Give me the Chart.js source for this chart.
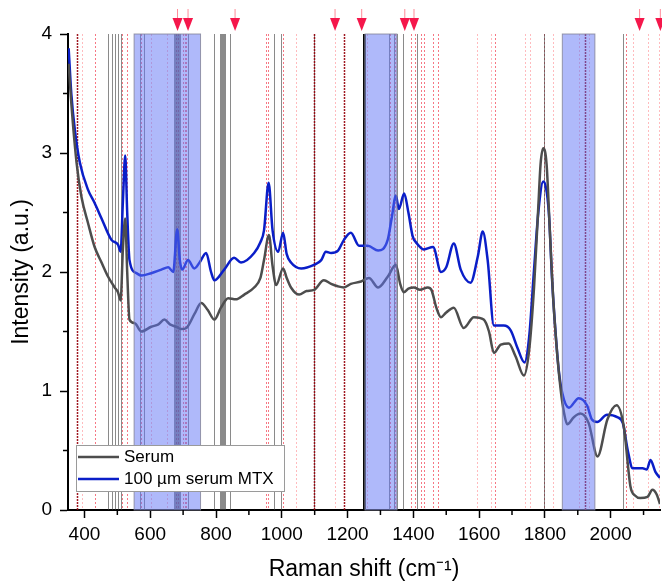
<!DOCTYPE html>
<html>
<head>
<meta charset="utf-8">
<script src="https://cdn.jsdelivr.net/npm/chart.js@4.4.1/dist/chart.umd.min.js"></script>
<style>
  body { margin: 0; background: #fff; }
</style>
</head>
<body>
<canvas id="raman" width="662" height="585"></canvas>
<script>
// spectra (Raman shift in cm-1, intensity in a.u.)
var serumShift = [352, 360, 376, 391, 411, 431, 452, 472, 492, 502, 510, 517, 524, 530, 537, 553, 573, 603, 625, 643, 660, 679, 695, 710, 735, 755, 775, 795, 815, 837, 860, 886, 916, 935, 946, 961, 972, 983, 1004, 1015, 1028, 1053, 1075, 1098, 1128, 1150, 1170, 1189, 1210, 1241, 1265, 1293, 1322, 1347, 1360, 1371, 1385, 1402, 1420, 1444, 1455, 1470, 1484, 1500, 1523, 1553, 1584, 1614, 1630, 1645, 1666, 1690, 1711, 1736, 1752, 1767, 1780, 1787, 1795, 1805, 1815, 1825, 1838, 1848, 1858, 1868, 1888, 1908, 1933, 1960, 1990, 2018, 2040, 2060, 2075, 2090, 2112, 2127, 2140, 2150];
var serumVal = [3.75, 3.42, 2.92, 2.63, 2.41, 2.21, 2.08, 1.96, 1.87, 1.83, 1.76, 2.2, 2.45, 2.0, 1.6, 1.57, 1.5, 1.54, 1.56, 1.6, 1.56, 1.54, 1.52, 1.53, 1.65, 1.74, 1.68, 1.6, 1.7, 1.78, 1.77, 1.81, 1.87, 1.95, 2.1, 2.31, 2.05, 1.89, 2.03, 1.95, 1.87, 1.81, 1.84, 1.85, 1.93, 1.9, 1.88, 1.87, 1.9, 1.92, 1.95, 1.87, 1.96, 2.06, 1.9, 1.83, 1.86, 1.87, 1.85, 1.87, 1.85, 1.7, 1.62, 1.66, 1.7, 1.53, 1.62, 1.6, 1.5, 1.32, 1.39, 1.4, 1.29, 1.13, 1.34, 1.87, 2.55, 2.91, 3.04, 2.91, 2.35, 1.79, 1.29, 1.01, 0.82, 0.72, 0.78, 0.81, 0.73, 0.45, 0.76, 0.88, 0.7, 0.2, 0.12, 0.1, 0.11, 0.17, 0.13, 0.05];

var mtxShift = [352, 360, 371, 386, 411, 431, 452, 482, 502, 510, 517, 524, 530, 537, 558, 573, 603, 634, 655, 670, 682, 690, 697, 715, 734, 750, 770, 785, 795, 825, 855, 876, 916, 935, 946, 960, 972, 989, 1004, 1015, 1028, 1059, 1098, 1120, 1134, 1150, 1171, 1189, 1210, 1235, 1262, 1293, 1322, 1334, 1347, 1356, 1372, 1385, 1398, 1408, 1432, 1460, 1484, 1500, 1523, 1544, 1574, 1596, 1611, 1626, 1645, 1675, 1696, 1717, 1738, 1752, 1767, 1780, 1795, 1812, 1822, 1832, 1842, 1853, 1873, 1903, 1928, 1943, 1959, 1989, 2020, 2037, 2052, 2067, 2097, 2110, 2121, 2136, 2150];
var mtxVal = [3.88, 3.5, 3.19, 2.92, 2.69, 2.58, 2.45, 2.27, 2.23, 2.17, 2.6, 2.98, 2.5, 2.1, 1.99, 1.97, 1.99, 2.02, 2.04, 2.0, 2.36, 2.1, 2.02, 2.1, 2.03, 2.08, 2.16, 2.0, 1.93, 2.02, 2.12, 2.08, 2.16, 2.25, 2.35, 2.75, 2.35, 2.17, 2.33, 2.15, 2.08, 2.03, 2.06, 2.1, 2.17, 2.16, 2.18, 2.27, 2.33, 2.22, 2.22, 2.18, 2.27, 2.45, 2.64, 2.53, 2.66, 2.5, 2.3, 2.25, 2.19, 2.21, 2.0, 2.04, 2.24, 2.02, 1.91, 2.13, 2.34, 2.1, 1.55, 1.55, 1.51, 1.36, 1.24, 1.45, 2.02, 2.5, 2.76, 2.5, 1.93, 1.51, 1.18, 0.98, 0.86, 0.94, 0.88, 0.76, 0.74, 0.8, 0.78, 0.73, 0.5, 0.35, 0.35, 0.34, 0.42, 0.32, 0.27];

// shaded ranges, marker lines and arrows (cm-1)
var bands = [[551, 753], [1253, 1350], [1853, 1952]];
var grayLines = [472, 484, 494, 502, 510, 569, 581, 672, 675, 678, 681, 684, 687, 690, 715, 795, 813, 816, 819, 822, 825, 828, 843, 976, 998, 1097, 1325, 1342, 1350, 1370, 1412, 1797, 2038];
var blackLines = [1246, 1248, 1250, 1252];
var redLight = [393, 603, 650, 1043, 1163, 1258, 1595, 1637, 1739, 1756, 1826, 1903, 1935, 2069, 2112, 2146];
var redMid = [432, 515, 530, 572, 677, 684, 700, 705, 710, 952, 958, 1003, 1330, 1345, 1394, 1405, 1423, 1433, 1461, 1475, 1647, 1797, 2047];
var redDark = [378, 1097, 1188, 1923];
var arrowShift = [683, 715, 858, 1162, 1243, 1374, 1402, 2088, 2151];

var FONT = "'Liberation Sans', Arial, sans-serif";

function toPoints(xs, ys) {
    return xs.map(function (x, i) { return { x: x, y: ys[i] }; });
}

function vline(c, a, px, color, width, dash) {
    c.strokeStyle = color;
    c.lineWidth = width;
    c.setLineDash(dash);
    c.beginPath();
    c.moveTo(px, a.top);
    c.lineTo(px, a.bottom);
    c.stroke();
}

var overlays = {
    id: 'overlays',
    beforeDatasetsDraw: function (chart) {
        var c = chart.ctx, a = chart.chartArea, xs = chart.scales.x;
        c.save();
        c.beginPath();
        c.rect(a.left, a.top, a.right - a.left, a.bottom - a.top);
        c.clip();
        redLight.forEach(function (v) {
            vline(c, a, Math.round(xs.getPixelForValue(v)) + 0.5, 'rgba(255,60,70,0.35)', 1, [2, 2]);
        });
        redMid.forEach(function (v) {
            vline(c, a, Math.round(xs.getPixelForValue(v)) + 0.5, 'rgba(240,30,50,0.6)', 1, [2, 2]);
        });
        grayLines.forEach(function (v) {
            vline(c, a, Math.round(xs.getPixelForValue(v)) + 0.5, 'rgba(60,60,60,0.6)', 1, []);
        });
        blackLines.forEach(function (v) {
            vline(c, a, Math.round(xs.getPixelForValue(v)) + 0.5, 'rgba(0,0,0,0.85)', 1, []);
        });
        redDark.forEach(function (v) {
            vline(c, a, Math.round(xs.getPixelForValue(v)) + 0.5, 'rgba(150,0,10,0.9)', 1.5, [2, 1]);
        });
        c.restore();
    },
    afterDatasetsDraw: function (chart) {
        var c = chart.ctx, a = chart.chartArea, xs = chart.scales.x;
        c.save();
        bands.forEach(function (b) {
            var x0 = xs.getPixelForValue(b[0]), x1 = xs.getPixelForValue(b[1]);
            c.fillStyle = 'rgba(95,115,245,0.5)';
            c.fillRect(x0, a.top, x1 - x0, a.bottom - a.top);
            c.strokeStyle = 'rgba(130,130,150,0.8)';
            c.lineWidth = 1;
            c.strokeRect(x0, a.top, x1 - x0, a.bottom - a.top);
        });
        c.restore();
    },
    afterDraw: function (chart) {
        var c = chart.ctx, a = chart.chartArea, xs = chart.scales.x, ys = chart.scales.y;
        c.save();
        // minor ticks
        c.strokeStyle = '#000';
        c.lineWidth = 1.5;
        xs.ticks.forEach(function (t) {
            if (t.value % 200 !== 0) {
                var px = xs.getPixelForValue(t.value);
                c.beginPath(); c.moveTo(px, a.bottom); c.lineTo(px, a.bottom + 5); c.stroke();
            }
        });
        ys.ticks.forEach(function (t) {
            if (t.value % 1 !== 0) {
                var py = ys.getPixelForValue(t.value);
                c.beginPath(); c.moveTo(a.left, py); c.lineTo(a.left - 5, py); c.stroke();
            }
        });
        // arrows
        arrowShift.forEach(function (v) {
            var px = xs.getPixelForValue(v);
            c.strokeStyle = 'rgba(255,90,110,0.7)';
            c.lineWidth = 1;
            c.beginPath(); c.moveTo(px, a.top - 25); c.lineTo(px, a.top - 15); c.stroke();
            c.fillStyle = '#f5174b';
            c.beginPath();
            c.moveTo(px - 5, a.top - 16);
            c.lineTo(px + 5, a.top - 16);
            c.lineTo(px, a.top - 3);
            c.closePath();
            c.fill();
        });
        // legend
        var lx = a.left + 8, ly = a.bottom - 65;
        c.fillStyle = '#fff';
        c.fillRect(lx, ly, 208, 46);
        c.strokeStyle = '#9a9a9a';
        c.lineWidth = 1;
        c.strokeRect(lx + 0.5, ly + 0.5, 208, 46);
        c.font = '17px ' + FONT;
        c.textBaseline = 'middle';
        chart.data.datasets.forEach(function (ds, i) {
            var yy = ly + 12 + i * 22;
            c.strokeStyle = ds.borderColor;
            c.lineWidth = 2.5;
            c.beginPath(); c.moveTo(lx + 2, yy); c.lineTo(lx + 43, yy); c.stroke();
            c.fillStyle = '#000';
            c.fillText(ds.label, lx + 48, yy);
        });
        c.restore();
    }
};

var ctx = document.getElementById('raman');
var raman = new Chart(ctx, {
    type: 'line',
    data: {
        datasets: [{
            label: 'Serum',
            data: toPoints(serumShift, serumVal),
            borderColor: '#4d4d4d',
            borderWidth: 2.5,
            pointRadius: 0,
            cubicInterpolationMode: 'monotone'
        }, {
            label: '100 µm serum MTX',
            data: toPoints(mtxShift, mtxVal),
            borderColor: '#0a1ec8',
            borderWidth: 2.5,
            pointRadius: 0,
            cubicInterpolationMode: 'monotone'
        }]
    },
    options: {
        responsive: false,
        animation: false,
        devicePixelRatio: 1,
        layout: { padding: { top: 34, right: 2, left: 0, bottom: 0 } },
        plugins: {
            legend: { display: false },
            tooltip: { enabled: false }
        },
        scales: {
            x: {
                type: 'linear',
                min: 350,
                max: 2150,
                afterBuildTicks: function (scale) {
                    var t = [];
                    for (var v = 400; v <= 2100; v += 100) t.push({ value: v });
                    scale.ticks = t;
                },
                afterFit: function (scale) { scale.height = 75; },
                border: { color: '#000', width: 2 },
                grid: {
                    drawOnChartArea: false,
                    tickLength: 8,
                    tickWidth: 1.5,
                    tickColor: function (c) {
                        return c.tick && c.tick.value % 200 === 0 ? '#000' : 'rgba(0,0,0,0)';
                    }
                },
                ticks: {
                    autoSkip: false,
                    maxRotation: 0,
                    padding: 5,
                    color: '#000',
                    font: { family: FONT, size: 19 },
                    callback: function (v) { return v % 200 === 0 ? v : ''; }
                },
                title: {
                    display: true,
                    text: 'Raman shift (cm\u207B\u00B9)',
                    color: '#000',
                    font: { family: FONT, size: 23 },
                    padding: { top: 0, bottom: 2 }
                }
            },
            y: {
                min: 0,
                max: 4,
                afterFit: function (scale) { scale.width = 68; },
                border: { color: '#000', width: 2 },
                grid: {
                    drawOnChartArea: false,
                    tickLength: 8,
                    tickWidth: 1.5,
                    tickColor: function (c) {
                        return c.tick && c.tick.value % 1 === 0 ? '#000' : 'rgba(0,0,0,0)';
                    }
                },
                ticks: {
                    stepSize: 0.5,
                    padding: 8,
                    color: '#000',
                    font: { family: FONT, size: 19 },
                    callback: function (v) { return v % 1 === 0 ? v : ''; }
                },
                title: {
                    display: true,
                    text: 'Intensity (a.u.)',
                    color: '#000',
                    font: { family: FONT, size: 23 },
                    padding: { top: 8, bottom: 0 }
                }
            }
        }
    },
    plugins: [overlays]
});
</script>
</body>
</html>
